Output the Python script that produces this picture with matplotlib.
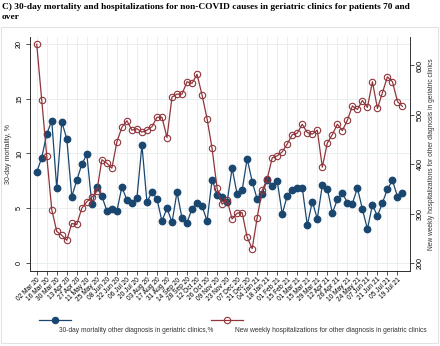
import numpy as np
import pandas as pd
import matplotlib
matplotlib.use("Agg")
import matplotlib.pyplot as plt
from matplotlib.lines import Line2D
from matplotlib.patches import Rectangle

# weekly data, 02 Mar 2020 .. 26 Jul 2021
weeks = pd.date_range("2020-03-02", periods=74, freq="7D")

mortality = [8.28, 9.62, 11.75, 13.0, 6.82, 12.88, 11.35, 6.06, 7.55, 9.01,
             9.92, 5.39, 6.91, 6.12, 4.75, 4.9, 4.75, 6.94, 5.75, 5.51,
             5.94, 10.78, 5.54, 6.51, 5.84, 3.81, 5.02, 3.71, 6.48, 4.08,
             3.68, 4.97, 5.51, 5.2, 3.84, 7.62, 6.24, 6.0, 5.57, 8.65,
             6.28, 6.64, 9.53, 7.43, 5.82, 6.28, 7.62, 7.03, 7.49, 4.47,
             6.13, 6.71, 6.88, 6.85, 3.44, 5.6, 4.04, 7.1, 6.78, 4.55,
             5.8, 6.4, 5.51, 5.43, 6.85, 4.93, 3.09, 5.3, 4.29, 5.5,
             6.75, 7.55, 6.06, 6.36]

hospitalizations = [643, 530, 417, 308, 264, 256, 246, 280, 278, 311,
                    324, 333, 345, 409, 402, 392, 445, 475, 488, 469,
                    472, 465, 469, 476, 495, 495, 454, 536, 542, 542,
                    567, 564, 582, 540, 492, 432, 351, 319, 327, 289,
                    301, 302, 252, 229, 292, 347, 370, 413, 417, 425,
                    441, 460, 463, 481, 464, 461, 469, 394, 443, 460,
                    481, 468, 489, 518, 511, 529, 515, 567, 513, 545,
                    577, 567, 527, 517]

tick_every = 2
left_ticks = [0, 5, 10, 15, 20]
right_ticks = [200, 300, 400, 500, 600]

label_mort = "30-day mortality other diagnosis in geriatric clinics,%"
label_hosp = "New weekly hospitalizations for other diagnosis in geriatric clinics"
title = ("C) 30-day mortality and hospitalizations for non-COVID causes in geriatric clinics for patients 70 and\n"
         "over")

navy = "#1a476f"
maroon = "#90353b"
grid_c = "#e8eff2"

plt.rcParams["font.family"] = ["Liberation Sans", "DejaVu Sans"]

fig = plt.figure(figsize=(4.4, 3.46), dpi=100)
fig.patch.set_facecolor("white")

# light outer frame
fig.add_artist(Rectangle((1 / 440, 1 - 343 / 346), 437 / 440, 316 / 346,
                         transform=fig.transFigure, fill=False,
                         edgecolor="#e2e2e2", lw=0.8))

fig.text(2 / 440, 1 - 3 / 346, title, ha="left", va="top",
         family=["Liberation Serif", "DejaVu Serif"], fontweight="bold",
         fontsize=6.75, linespacing=1.3)

ax = fig.add_axes([30 / 440, 1 - 270.7 / 346, 380 / 440, (270.7 - 37.3) / 346])
x = np.arange(len(weeks))

ax.plot(x, mortality, color=navy, lw=0.9, marker="o", ms=4.6,
        mfc=navy, mec=navy, zorder=3)
ax.set_ylim(-0.7, 20.6)
ax.set_xlim(-1.34, 74.5)
ax.set_yticks(left_ticks)
ax.set_yticklabels([str(t) for t in left_ticks], rotation=90, va="center")
ax.set_ylabel("30-day mortality, %", fontsize=5.0, color="#333333", labelpad=3)

xt = x[::tick_every]
ax.set_xticks(xt)
ax.set_xticklabels([d.strftime("%d %b %y") for d in weeks[::tick_every]],
                   rotation=45, ha="right", rotation_mode="anchor", fontsize=4.8)
ax.grid(True, color=grid_c, lw=0.7)
ax.set_axisbelow(True)
ax.tick_params(axis="both", length=3, width=0.6, color="#333333",
               labelsize=5.2, pad=2)
ax.tick_params(axis="x", labelsize=4.8, pad=1)

ax2 = ax.twinx()
ax2.plot(x, hospitalizations, color=maroon, lw=0.9, marker="o", ms=4.6,
         mfc="none", mec=maroon, mew=0.8, zorder=3)
ax2.set_ylim(184.4, 657)
ax2.set_yticks(right_ticks)
ax2.set_yticklabels([str(t) for t in right_ticks], rotation=90, va="center")
ax2.tick_params(axis="y", length=3, width=0.6, color="#333333",
                labelsize=5.2, pad=2)
ax2.set_ylabel(label_hosp, fontsize=4.8, color="#333333", labelpad=3)

for a in (ax, ax2):
    a.spines["top"].set_visible(False)
    for s in ("left", "right", "bottom"):
        a.spines[s].set_color("#333333")
        a.spines[s].set_linewidth(0.7)
ax.spines["right"].set_visible(False)

# legend, Stata style: key on top, label below
ky = 1 - 320 / 346
for x0, x1, col, fill, lab, tx in [(39, 71, navy, navy, label_mort, 59),
                                   (211, 243, maroon, "none", label_hosp, 235)]:
    fig.add_artist(Line2D([x0 / 440, x1 / 440], [ky, ky], color=col, lw=0.9,
                          transform=fig.transFigure))
    fig.add_artist(Line2D([(x0 + x1) / 2 / 440], [ky], color=col, marker="o",
                          ms=4.6, mfc=fill, mec=col, mew=0.8,
                          transform=fig.transFigure))
    fig.text(tx / 440, 1 - 331 / 346, lab, fontsize=4.75, color="#333333",
             ha="left", va="center")

fig.savefig("out.png", dpi=100, facecolor="white")
